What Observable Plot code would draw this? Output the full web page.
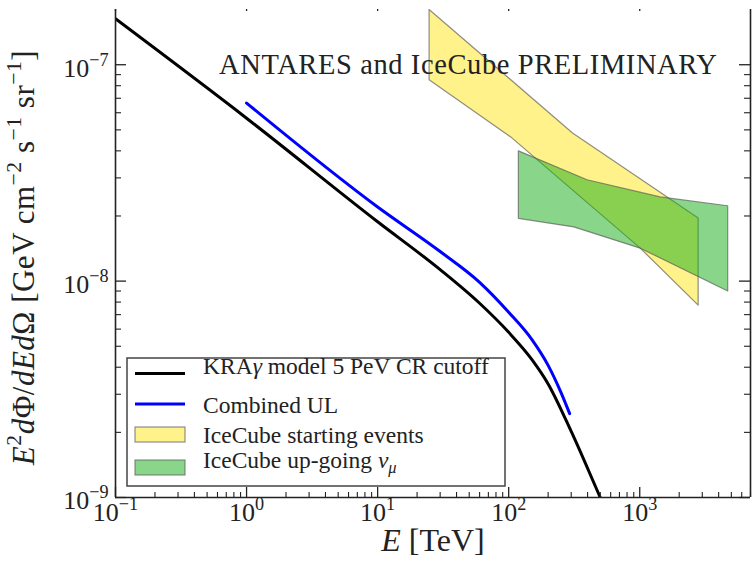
<!DOCTYPE html>
<html><head><meta charset="utf-8">
<script src="https://cdn.jsdelivr.net/npm/d3@7"></script>
<script src="https://cdn.jsdelivr.net/npm/@observablehq/plot@0.6"></script>
<style>html,body{margin:0;padding:0;background:#fff}svg{display:block}</style>
</head><body><div id="chart"></div>
<script>
// ---- data ----
const modelE    = [0.1, 1, 10, 30, 60, 100, 150, 200, 300, 500, 650];
const modelFlux = [1.63e-7, 5.66e-8, 1.88e-8, 1.13e-8, 7.9e-9, 5.8e-9, 4.35e-9, 3.35e-9, 2.02e-9, 1.0e-9, 7.0e-10];
const ulE       = [1, 10, 30, 60, 100, 150, 200, 250, 292];
const ulFlux    = [6.65e-8, 2.2e-8, 1.37e-8, 9.87e-9, 7.18e-9, 5.38e-9, 4.08e-9, 3.07e-9, 2.44e-9];
// polygon outlines (upper edge then lower edge reversed)
const startE    = [24.7, 307, 2790, 2790, 1009, 103.6, 24.7];
const startFlux = [1.8e-7, 4.84e-8, 1.96e-8, 7.74e-9, 1.42e-8, 4.64e-8, 8.53e-8];
const upE       = [118.5, 396, 1432, 4690, 4690, 1009, 314, 118.5];
const upFlux    = [4.0e-8, 2.94e-8, 2.45e-8, 2.23e-8, 9.0e-9, 1.42e-8, 1.78e-8, 1.95e-8];

const xDomain = [0.1, 7000];
const yDomain = [1e-9, 1.8e-7];
const xTicks = [0.1, 1, 10, 100, 1000];
const xTickLabels = ["10^{−1}", "10^{0}", "10^{1}", "10^{2}", "10^{3}"];
const yTicks = [1e-9, 1e-8, 1e-7];
const yTickLabels = ["10^{−9}", "10^{−8}", "10^{−7}"];
const legendLabels = ["KRA*{γ} model 5 PeV CR cutoff", "Combined UL", "IceCube starting events", "IceCube up-going *{ν}_*{μ}"];
const titleText = "ANTARES and IceCube PRELIMINARY";
const xLabel = "*{E} [TeV]";
const yLabel = "*{E}^{2}*{d}Φ/*{dEd}Ω [GeV cm^{−2} s^{−1} sr^{−1}]";

const xMinor = [], yMinor = [];
for (const d of xTicks) for (let m = 2; m <= 9; m++) if (m * d <= xDomain[1]) xMinor.push(m * d);
for (const d of yTicks) for (let m = 2; m <= 9; m++) if (m * d <= yDomain[1]) yMinor.push(m * d);

const model = modelE.map((E, i) => ({E, F: modelFlux[i]}));
const ul = ulE.map((E, i) => ({E, F: ulFlux[i]}));
const startBand = startE.map((E, i) => ({E, F: startFlux[i]}));
const upBand = upE.map((E, i) => ({E, F: upFlux[i]}));

const W = 753, H = 562, mL = 115, mR = 3, mT = 9, mB = 65;
const fw = W - mL - mR, fh = H - mT - mB;
const ink = "#222";
const yellow = "#ffe515", green = "#13ad17";
const serif = "'Liberation Serif','DejaVu Serif',serif";

const chart = Plot.plot({
  width: W, height: H,
  marginLeft: mL, marginRight: mR, marginTop: mT, marginBottom: mB,
  x: {type: "log", domain: xDomain, axis: null},
  y: {type: "log", domain: yDomain, axis: null},
  style: {fontFamily: serif, color: ink, background: "#fff"},
  marks: [
    Plot.line(startBand, {x: "E", y: "F", fill: yellow, fillOpacity: 0.5, stroke: "#555", strokeOpacity: 0.65, strokeWidth: 1.2, curve: "linear-closed", clip: true}),
    Plot.line(upBand, {x: "E", y: "F", fill: green, fillOpacity: 0.5, stroke: "#555", strokeOpacity: 0.65, strokeWidth: 1.2, curve: "linear-closed", clip: true}),
    Plot.line(model, {x: "E", y: "F", stroke: "#000", strokeWidth: 3, curve: "monotone-x", clip: true}),
    Plot.line(ul, {x: "E", y: "F", stroke: "#0000ff", strokeWidth: 3, curve: "monotone-x", clip: true}),
    // spines
    Plot.ruleX(xDomain, {stroke: ink, strokeWidth: 1.6}),
    Plot.ruleY([yDomain[0]], {stroke: ink, strokeWidth: 1.6}),
    // inward ticks
    Plot.tickX(xTicks, {x: d => d, insetTop: fh - 10, stroke: ink, strokeWidth: 1.3}),
    Plot.tickX(xMinor, {x: d => d, insetTop: fh - 5, stroke: ink, strokeWidth: 1.1}),
    Plot.tickX(xTicks, {x: d => d, insetBottom: fh - 2, stroke: ink, strokeWidth: 1.3}),
    Plot.tickY(yTicks, {y: d => d, insetRight: fw - 11, stroke: ink, strokeWidth: 1.3}),
    Plot.tickY(yMinor, {y: d => d, insetRight: fw - 6, stroke: ink, strokeWidth: 1.1}),
    Plot.tickY(yTicks, {y: d => d, insetLeft: fw - 11, stroke: ink, strokeWidth: 1.3}),
    Plot.tickY(yMinor, {y: d => d, insetLeft: fw - 6, stroke: ink, strokeWidth: 1.1}),
    // tick labels
    Plot.text(xTicks, {x: d => d, frameAnchor: "bottom", dy: 23, textAnchor: "middle", text: (d, i) => xTickLabels[i], fontSize: 26, fill: ink}),
    Plot.text(yTicks, {y: d => d, frameAnchor: "left", dx: -7, dy: 3.5, textAnchor: "end", text: (d, i) => yTickLabels[i], fontSize: 26, fill: ink}),
    // axis labels and title
    Plot.text([xLabel], {frameAnchor: "bottom", dy: 53, textAnchor: "middle", text: d => d, fontSize: 32, fill: ink}),
    Plot.text([yLabel], {frameAnchor: "left", dx: -91, dy: 4, rotate: -90, textAnchor: "middle", text: d => d, fontSize: 31, fill: ink}),
    Plot.text([titleText], {frameAnchor: "top-right", dx: -33, dy: 44, textAnchor: "end", text: d => d, fontSize: 28.5, fill: ink})
  ]
});
document.getElementById("chart").appendChild(chart);
const svg = d3.select(chart);

// letter spacing to mimic the wider Computer Modern set
svg.selectAll("text").each(function () {
  if (this.textContent === titleText) this.setAttribute("letter-spacing", "0.6");
  if (this.textContent === yLabel) this.setAttribute("letter-spacing", "0.5");
});

// ---- legend ----
const lg = svg.append("g").attr("font-family", serif).attr("font-size", 23.5).attr("fill", ink).attr("text-anchor", "start");
lg.append("rect").attr("x", 127).attr("y", 358).attr("width", 378).attr("height", 128)
  .attr("fill", "#fff").attr("stroke", "#444").attr("stroke-width", 1.5);
const rowY = [373.5, 404, 434.5, 467.5];
lg.append("line").attr("x1", 135).attr("x2", 185).attr("y1", rowY[0]).attr("y2", rowY[0]).attr("stroke", "#000").attr("stroke-width", 3);
lg.append("line").attr("x1", 135).attr("x2", 185).attr("y1", rowY[1]).attr("y2", rowY[1]).attr("stroke", "#0000ff").attr("stroke-width", 3);
[[yellow, rowY[2]], [green, rowY[3]]].forEach(([c, y]) => {
  lg.append("rect").attr("x", 135).attr("y", y - 7.5).attr("width", 50).attr("height", 15)
    .attr("fill", c).attr("fill-opacity", 0.5).attr("stroke", "#555").attr("stroke-opacity", 0.65).attr("stroke-width", 1.2);
});
legendLabels.forEach((t, i) => {
  lg.append("text").attr("x", 203).attr("y", rowY[i]).attr("dy", "0.38em").text(t);
});

// ---- rich text: ^{sup} _{sub} *{italic} ----
function richText(el, spec, fs) {
  const t = d3.select(el);
  t.text(null);
  const re = /([\^_])(\*?)\{([^}]*)\}|\*\{([^}]*)\}|([^\^_*]+)/g;
  let m, shift = 0;
  while ((m = re.exec(spec))) {
    if (m[1]) {
      const target = m[1] === "^" ? -0.42 * fs : 0.22 * fs;
      t.append("tspan").attr("dy", target - shift).attr("font-size", 0.7 * fs)
        .attr("font-style", m[2] ? "italic" : null).text(m[3]);
      shift = target;
    } else {
      const italic = m[4] != null;
      t.append("tspan").attr("dy", -shift).attr("font-style", italic ? "italic" : null).text(italic ? m[4] : m[5]);
      shift = 0;
    }
  }
}
svg.selectAll("text").each(function () {
  const s = this.textContent;
  if (/[\^_*]\{/.test(s)) richText(this, s, parseFloat(getComputedStyle(this).fontSize));
});
</script>
</body></html>
